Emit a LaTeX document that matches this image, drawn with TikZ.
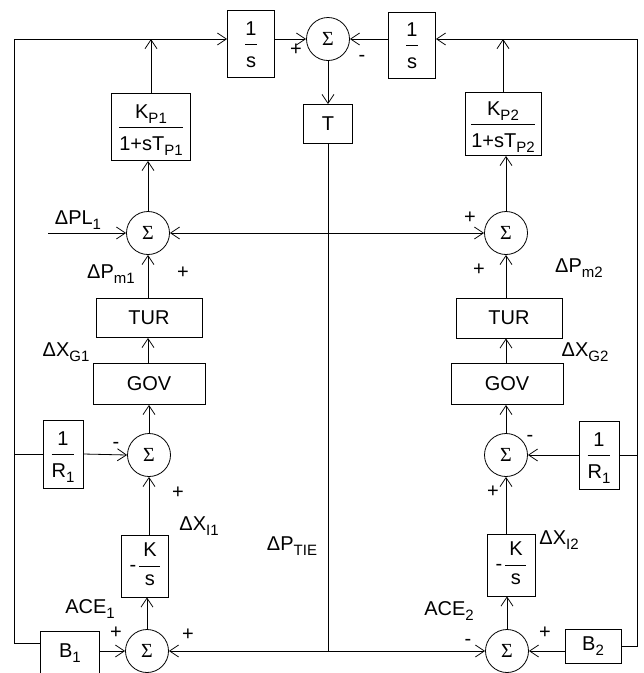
\documentclass[tikz,border=0pt]{standalone}
\usepackage{fontspec}
\setmainfont{Liberation Sans}
\newfontfamily\serifsig{Liberation Serif}
\usetikzlibrary{arrows.meta}
\newcommand\sbs[1]{\raisebox{-5pt}{\fontsize{15}{15}\selectfont #1}}
\newcommand\frc[2]{{\setlength\arrayrulewidth{0.8pt}\renewcommand\arraystretch{0.1}%
  \begin{tabular}{@{}c@{}}\rule[-8pt]{0pt}{30pt}#1\\\hline\rule[-7pt]{0pt}{30pt}#2\end{tabular}}}
\newcommand\frcs[2]{{\setlength\arrayrulewidth{0.8pt}\renewcommand\arraystretch{0.1}%
  \begin{tabular}{@{}c@{}}\rule[-9pt]{0pt}{28pt}#1\\\hline\rule[-9pt]{0pt}{28pt}#2\end{tabular}}}
\newcommand\sig{{\serifsig Σ}}
\tikzset{
  blk/.style={draw, inner sep=0pt},
  sumn/.style={draw, circle, minimum size=43pt, inner sep=0pt},
  lbl/.style={inner sep=0pt},
  arr/.style={-{Straight Barb[length=9pt,width=12pt]}},
  darr/.style={{Straight Barb[length=9pt,width=12pt]}-{Straight Barb[length=9pt,width=12pt]}},
}
\begin{document}
\begin{tikzpicture}[x=1pt,y=-1pt,line width=0.8pt,font=\fontsize{20}{24}\selectfont]
\useasboundingbox (0,0) rectangle (644,673);
% reference coordinates
\coordinate (top) at (0,39);
\coordinate (lft) at (14,0);
\coordinate (rgt) at (637,0);
% top row
\node[blk, minimum width=47pt, minimum height=67pt] (sL) at (251,44) {\frc{1}{s}};
\node[sumn] (St) at (328,39) {\sig};
\node[blk, minimum width=47pt, minimum height=66pt] (sR) at (412,45) {\frc{1}{s}};
\node[blk, minimum width=49pt, minimum height=39pt] (T) at (328,124) {T};
\node[blk, minimum width=79pt, minimum height=67pt] (KP1) at (151,127) {\frc{K\sbs{P1}}{1+sT\sbs{P1}}};
\node[blk, minimum width=76pt, minimum height=63pt] (KP2) at (503,124) {\frc{K\sbs{P2}}{1+sT\sbs{P2}}};
% area 1 column
\node[sumn] (S1) at (148,233) {\sig};
\node[blk, minimum width=106pt, minimum height=39pt] (TUR1) at (149,318) {TUR};
\node[blk, minimum width=112pt, minimum height=41pt] (GOV1) at (149,384) {GOV};
\node[blk, minimum width=40pt, minimum height=68pt] (R1) at (63,454) {\frc{1}{R\sbs{1}}};
\node[sumn] (S3) at (149,455) {\sig};
\node[blk, minimum width=47pt, minimum height=62pt] (KS1) at (145,566) {-\,\frcs{\makebox[21pt]{K}}{s}};
\node[sumn] (S5) at (147,651) {\sig};
\node[blk, minimum width=59pt, minimum height=44pt] (B1) at (70,653) {B\sbs{1}};
% area 2 column
\node[sumn] (S2) at (506,233) {\sig};
\node[blk, minimum width=106pt, minimum height=40pt] (TUR2) at (509,318) {TUR};
\node[blk, minimum width=112pt, minimum height=41pt] (GOV2) at (507,384) {GOV};
\node[sumn] (S4) at (506,455) {\sig};
\node[blk, minimum width=40pt, minimum height=68pt] (R2) at (599,455) {\frc{1}{R\sbs{1}}};
\node[blk, minimum width=48pt, minimum height=62pt] (KS2) at (511,565) {-\,\frcs{\makebox[21pt]{K}}{s}};
\node[sumn] (S6) at (507,651) {\sig};
\node[blk, minimum width=56pt, minimum height=34pt] (B2) at (593,646) {B\sbs{2}};
% input
\coordinate (plin) at (48,233);
% labels
\node[lbl] (p1) at (296,50) {+};
\node[lbl] (m1) at (362,58) {-};
\node[lbl] (lPL) at (78,220) {ΔPL\sbs{1}};
\node[lbl] (lPm1) at (111,274) {ΔP\sbs{m1}};
\node[lbl] (p2) at (183,273) {+};
\node[lbl] (p3) at (470,218) {+};
\node[lbl] (p4) at (479,270) {+};
\node[lbl] (lPm2) at (579,268) {ΔP\sbs{m2}};
\node[lbl] (lXG1) at (66,352) {ΔX\sbs{G1}};
\node[lbl] (lXG2) at (585,352) {ΔX\sbs{G2}};
\node[lbl] (m2) at (116,445) {-};
\node[lbl] (p5) at (178,493) {+};
\node[lbl] (m3) at (530,438) {-};
\node[lbl] (p6) at (493,492) {+};
\node[lbl] (lXI1) at (199,526) {ΔX\sbs{I1}};
\node[lbl] (lXI2) at (559,540) {ΔX\sbs{I2}};
\node[lbl] (lPT) at (292,546) {ΔP\sbs{TIE}};
\node[lbl] (lA1) at (90,609) {ACE\sbs{1}};
\node[lbl] (lA2) at (449,611) {ACE\sbs{2}};
\node[lbl] (p7) at (116,633) {+};
\node[lbl] (p8) at (188,635) {+};
\node[lbl] (m4) at (468,642) {-};
\node[lbl] (p9) at (545,633) {+};
% outer loops
\draw[arr] ([yshift=10pt]B1.west) -| (lft |- top) -- (sL.west |- top);
\draw[arr] (B2.east) -| (rgt |- top) -- (sR.east |- top);
\draw[arr] (KP1.north) -- (KP1.north |- top);
\draw[arr] (KP2.north) -- (KP2.north |- top);
\draw[arr] (sL.east |- St.west) -- (St.west);
\draw[arr] (sR.west |- St.east) -- (St.east);
\draw[arr] (St.south) -- (T.north);
\draw (T.south) -- (T.south |- S5.east);
% middle tie
\draw[darr] (S1.east) -- (S2.west);
\draw[arr] (plin) -- (S1.west);
% left column
\draw[arr] (S1.north) -- (S1.north |- KP1.south);
\draw[arr] (TUR1.north -| S1) -- (S1.south);
\draw[arr] (GOV1.north -| S1) -- (TUR1.south -| S1);
\draw[arr] (S3.north) -- (S3.north |- GOV1.south);
\draw[arr] (KS1.north -| S3) -- (S3.south);
\draw[arr] (S5.north) -- (S5.north |- KS1.south);
\draw (R1.west -| lft) -- (R1.west);
\draw[arr] (R1.east) -- (S3.west);
\draw[arr] (B1.east |- S5.west) -- (S5.west);
% right column
\draw[arr] (S2.north) -- (S2.north |- KP2.south);
\draw[arr] (TUR2.north -| S2) -- (S2.south);
\draw[arr] (GOV2.north -| S2) -- (TUR2.south -| S2);
\draw[arr] (S4.north) -- (S4.north |- GOV2.south);
\draw[arr] (KS2.north -| S4) -- (S4.south);
\draw[arr] (S6.north) -- (S6.north |- KS2.south);
\draw (R2.east -| rgt) -- (R2.east);
\draw[arr] (R2.west) -- (S4.east);
\draw[arr] (B2.west |- S6.east) -- (S6.east);
% bottom tie
\draw[darr] (S5.east) -- (S6.west);
\end{tikzpicture}
\end{document}
